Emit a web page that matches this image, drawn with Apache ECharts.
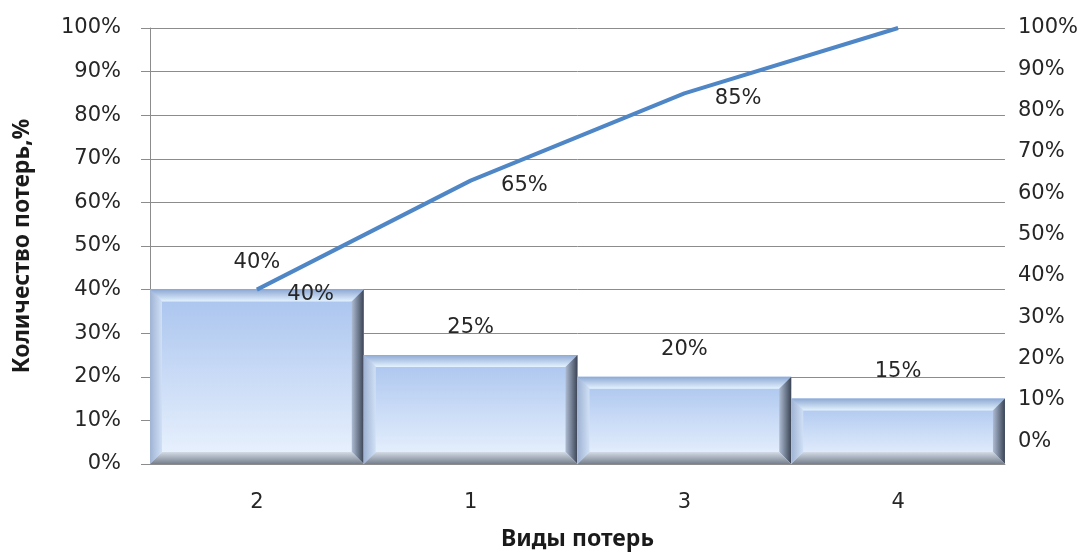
<!DOCTYPE html>
<html>
<head>
<meta charset="utf-8">
<script src="https://cdn.jsdelivr.net/npm/echarts@6/dist/echarts.min.js"></script>
<style>
  html, body { margin: 0; padding: 0; background: #ffffff; overflow: hidden; }
  #chart { width: 100vw; height: 100vh; }
</style>
</head>
<body>
<div id="chart"></div>
<script>
// Loss types ordered by share (Pareto order)
const categories = ['2', '1', '3', '4'];
// Share of each loss type, %
const shareValues = [40, 25, 20, 15];
// Cumulative share, %
const cumulativeValues = [40, 65, 85, 100];
// Tick labels of the secondary axis, %
const rightTicks = [0, 10, 20, 30, 40, 50, 60, 70, 80, 90, 100];

const FONT = 'DejaVu Sans';
const NAME_FONT = 'Noto Sans';
const TICK_SIZE = 21;

const grad = (x, y, x2, y2, c0, c1) =>
  new echarts.graphic.LinearGradient(x, y, x2, y2, [
    { offset: 0, color: c0 },
    { offset: 1, color: c1 }
  ]);

// Bevelled bar with a value label above it
function renderBevelBar(params, api) {
  const idx = api.value(0);
  const val = api.value(1);
  const top = api.coord([idx, val]);
  const base = api.coord([idx, 0]);
  const w = api.size([1, 0])[0];
  const x0 = top[0] - w / 2;
  const x1 = top[0] + w / 2;
  const y0 = top[1];
  const y1 = base[1];
  const b = Math.min(12, (y1 - y0) / 2, w / 2);

  return {
    type: 'group',
    children: [
      {
        type: 'rect',
        shape: { x: x0, y: y0, width: x1 - x0, height: y1 - y0 },
        style: { fill: grad(0, 0, 0, 1, '#a8c3ee', '#ebf3fe') }
      },
      {
        type: 'polygon',
        shape: { points: [[x0, y0], [x1, y0], [x1 - b, y0 + b], [x0 + b, y0 + b]] },
        style: { fill: grad(0, 0, 0, 1, '#8ea9d4', '#e4f3fe') }
      },
      {
        type: 'polygon',
        shape: { points: [[x0, y0], [x0 + b, y0 + b], [x0 + b, y1 - b], [x0, y1]] },
        style: { fill: grad(0, 0, 1, 0, '#9fb3d3', '#d0e0f6') }
      },
      {
        type: 'polygon',
        shape: { points: [[x1, y0], [x1, y1], [x1 - b, y1 - b], [x1 - b, y0 + b]] },
        style: { fill: grad(0, 0, 1, 0, '#aebcd3', '#3a4455') }
      },
      {
        type: 'polygon',
        shape: { points: [[x0, y1], [x1, y1], [x1 - b, y1 - b], [x0 + b, y1 - b]] },
        style: { fill: grad(0, 0, 0, 1, '#d3dbe6', '#767f8e') }
      },
      {
        type: 'text',
        style: {
          text: val + '%',
          x: top[0],
          y: y0 - 27,
          align: 'center',
          verticalAlign: 'middle',
          fill: '#262626',
          font: TICK_SIZE + 'px "' + FONT + '"'
        }
      }
    ]
  };
}

const chart = echarts.init(document.getElementById('chart'), null, { renderer: 'canvas' });

chart.setOption({
  animation: false,
  backgroundColor: '#ffffff',
  grid: { left: 150, right: 68, top: 28, bottom: 83, containLabel: false },
  xAxis: {
    type: 'category',
    data: categories,
    boundaryGap: true,
    name: 'Виды потерь',
    nameLocation: 'middle',
    nameGap: 64,
    nameTextStyle: { fontFamily: NAME_FONT, fontWeight: 'bold', fontSize: 23, color: '#1a1a1a' },
    axisLine: { show: true, lineStyle: { color: '#8c8c8c', width: 1 } },
    axisTick: { show: false },
    axisLabel: { margin: 28, fontFamily: FONT, fontSize: TICK_SIZE, color: '#262626' },
    splitLine: { show: false }
  },
  yAxis: [
    {
      type: 'value',
      min: 0,
      max: 100,
      interval: 10,
      name: 'Количество потерь,%',
      nameLocation: 'middle',
      nameGap: 116,
      nameRotate: 90,
      nameTextStyle: { fontFamily: NAME_FONT, fontWeight: 'bold', fontSize: 23, color: '#1a1a1a' },
      axisLine: { show: true, lineStyle: { color: '#8c8c8c', width: 1 } },
      axisTick: { show: true, inside: false, length: 9, lineStyle: { color: '#8c8c8c' } },
      axisLabel: { margin: 29, fontFamily: FONT, fontSize: TICK_SIZE, color: '#262626', formatter: '{value}%' },
      splitLine: { show: true, lineStyle: { color: '#8c8c8c', width: 1 } }
    },
    {
      type: 'value',
      position: 'right',
      min: -5.5,
      max: 100,
      axisLine: { show: false },
      axisTick: { show: false },
      splitLine: { show: false },
      axisLabel: {
        margin: 13,
        fontFamily: FONT,
        fontSize: TICK_SIZE,
        color: '#262626',
        customValues: rightTicks,
        formatter: v => Math.round(v) + '%'
      }
    }
  ],
  series: [
    {
      type: 'custom',
      name: 'Доля',
      yAxisIndex: 0,
      renderItem: renderBevelBar,
      encode: { x: 0, y: 1 },
      data: shareValues.map((v, i) => [i, v]),
      z: 2
    },
    {
      type: 'line',
      name: 'Накопленная доля',
      yAxisIndex: 0,
      data: cumulativeValues.map((v, i) => ({
        value: v,
        label: { show: i < cumulativeValues.length - 1 }
      })),
      showSymbol: true,
      symbol: 'circle',
      symbolSize: 1,
      itemStyle: { color: 'rgba(0,0,0,0)' },
      lineStyle: { color: '#4f86c6', width: 4 },
      label: {
        show: true,
        position: 'right',
        distance: 30,
        offset: [0, 5],
        fontFamily: FONT,
        fontSize: TICK_SIZE,
        color: '#262626',
        formatter: '{c}%'
      },
      z: 3
    }
  ]
});
</script>
</body>
</html>
